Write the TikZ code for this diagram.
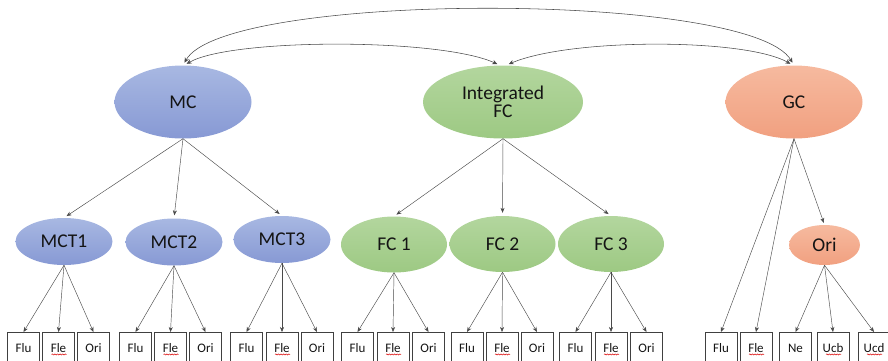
\documentclass[tikz,border=0pt]{standalone}
\usepackage{fontspec}
\setmainfont{Carlito}
\usetikzlibrary{shapes.geometric,arrows.meta,decorations.pathmorphing}

\definecolor{mcTop}{HTML}{A8B8E2}
\definecolor{mcBot}{HTML}{8799D4}
\definecolor{fcTop}{HTML}{B3D69E}
\definecolor{fcBot}{HTML}{9DC983}
\definecolor{gcTop}{HTML}{F6BA9F}
\definecolor{gcBot}{HTML}{F1A080}
\definecolor{ink}{HTML}{141414}
\definecolor{wire}{HTML}{4A4A4A}

\tikzset{
  latent/.style={ellipse, inner sep=0pt, text=ink, font=\fontsize{19.5}{20}\selectfont, align=center},
  mcfill/.style={latent, top color=mcTop, bottom color=mcBot},
  fcfill/.style={latent, top color=fcTop, bottom color=fcBot},
  gcfill/.style={latent, top color=gcTop, bottom color=gcBot},
  bigov/.style={minimum width=137pt, minimum height=73pt},
  subov/.style={minimum width=97pt, minimum height=47pt},
  fcov/.style={minimum width=106pt, minimum height=56pt},
  obs/.style={rectangle, draw=black!75, line width=0.9pt, minimum width=32pt, minimum height=32pt,
              anchor=north, inner sep=0pt, text=ink, font=\fontsize{13}{14}\selectfont},
  load/.style={draw=wire, line width=0.45pt, -{Stealth[length=5pt,width=4pt]}},
  cov/.style={draw=wire, line width=0.55pt, {Stealth[length=5pt,width=4.5pt]}-{Stealth[length=5pt,width=4.5pt]}},
  spell/.style={draw=red!85!black, line width=0.5pt, decorate,
                decoration={snake, amplitude=0.55pt, segment length=2.6pt}}
}

\newcommand{\squiggle}[1]{%
  \draw[spell] ([xshift=-7pt,yshift=-6pt]#1.center) -- ([xshift=8pt,yshift=-6pt]#1.center);}

\begin{document}
\begin{tikzpicture}[x=1pt, y=-1pt]
\useasboundingbox (0,0) rectangle (888,360);
\clip (0,0) rectangle (888,360);

% second-order factors
\node[mcfill, bigov] (MC) at (183,102) {MC};
\node[fcfill, bigov, minimum width=160pt] (FC) at (503,102) {Integrated\\[-2pt]FC};
\node[gcfill, bigov] (GC) at (794,102) {GC};

% first-order factors
\node[mcfill, subov] (MCT1) at (64,241.5) {MCT1};
\node[mcfill, subov] (MCT2) at (174,242) {MCT2};
\node[mcfill, subov] (MCT3) at (282,239.5) {MCT3};
\node[fcfill, fcov] (FC1) at (394,244.5) {FC 1};
\node[fcfill, fcov] (FC2) at (502.5,244) {FC 2};
\node[fcfill, fcov] (FC3) at (611,244) {FC 3};
\node[gcfill, minimum width=71pt, minimum height=40pt] (Ori) at (824.5,245) {Ori};

% indicators
\node[obs] (a1) at (23.5,332) {Flu};
\node[obs] (a2) at (58.5,332) {Fle};
\node[obs] (a3) at (93.5,332) {Ori};
\node[obs] (b1) at (135.5,332) {Flu};
\node[obs] (b2) at (170.5,332) {Fle};
\node[obs] (b3) at (205.5,332) {Ori};
\node[obs] (c1) at (246.5,332) {Flu};
\node[obs] (c2) at (282,332) {Fle};
\node[obs] (c3) at (317,332) {Ori};
\node[obs] (d1) at (357.5,332) {Flu};
\node[obs] (d2) at (393,332) {Fle};
\node[obs] (d3) at (428.5,332) {Ori};
\node[obs] (e1) at (467,332) {Flu};
\node[obs] (e2) at (502,332) {Fle};
\node[obs] (e3) at (537,332) {Ori};
\node[obs] (f1) at (575.5,332) {Flu};
\node[obs] (f2) at (611,332) {Fle};
\node[obs] (f3) at (646.5,332) {Ori};
\node[obs] (g1) at (721,332) {Flu};
\node[obs] (g2) at (756,332) {Fle};
\node[obs] (h1) at (795.5,332) {Ne};
\node[obs] (h2) at (833,332) {Ucb};
\node[obs] (h3) at (874,332) {Ucd};

\foreach \n in {a2,b2,c2,d2,e2,f2,g2,h2,h3} {\squiggle{\n}}

% loadings of second-order factors
\foreach \t in {MCT1,MCT2,MCT3} {\draw[load, shorten >=3pt] (MC.south) -- (\t.north);}
\foreach \t in {FC1,FC2,FC3} {\draw[load, shorten >=3pt] (FC.south) -- (\t.north);}
\draw[load, shorten >=2pt] (GC.south) -- (Ori.north);
\draw[load] (GC.south) -- (g1.north);
\draw[load] (GC.south) -- (g2.north);

% loadings of first-order factors
\foreach \p/\s in {MCT1/a, MCT2/b, MCT3/c, FC1/d, FC2/e, FC3/f, Ori/h} {
  \foreach \k in {1,2,3} {\draw[load] (\p.south) -- (\s\k.north);}
}

% covariances between second-order factors
\draw[cov, shorten <=3pt, shorten >=3pt] (MC.north) .. controls (225,-9) and (750,-9) .. (GC.north);
\draw[cov, shorten <=3pt, shorten >=3pt] ([xshift=1pt]MC.north) .. controls (232,38) and (440,38) .. ([xshift=-3pt]FC.north);
\draw[cov, shorten <=3pt, shorten >=3pt] ([xshift=3pt]FC.north) .. controls (570,38) and (745,38) .. ([xshift=-1pt]GC.north);
\end{tikzpicture}
\end{document}
